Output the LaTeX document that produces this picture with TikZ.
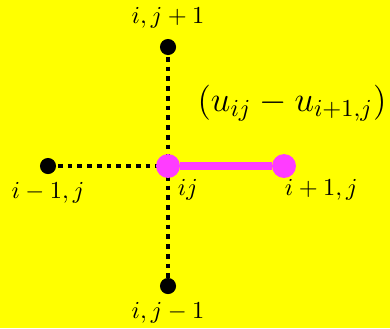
\documentclass[tikz,border=0pt]{standalone}
\usepackage{amsmath}
\usetikzlibrary{positioning, backgrounds}
\definecolor{sitepink}{RGB}{255,60,255}
\definecolor{bgyellow}{RGB}{255,255,0}

\begin{document}
\begin{tikzpicture}[x=0.41pt, y=-0.41pt,
    blackdot/.style={circle, fill=black, inner sep=0pt, minimum size=6.6pt},
    pinkdot/.style={circle, fill=sitepink, inner sep=0pt, minimum size=9.8pt},
    gridline/.style={line width=2pt, dash pattern=on 2pt off 2pt},
    bond/.style={line width=3.4pt, draw=sitepink},
    lbl/.style={inner sep=1pt, font=\normalsize}
]

\useasboundingbox (0,0) rectangle (390,328);

\node[pinkdot] (c) at (168,166) {};
\node[pinkdot] (r) at (284,166) {};
\node[blackdot] (t) at (168,47) {};
\node[blackdot] (b) at (168,286) {};
\node[blackdot] (l) at (48,166) {};

\begin{scope}[on background layer]
\fill[bgyellow] (0,0) rectangle (390,328);
\draw[gridline] (t.center) -- (c.center);
\draw[gridline] (c.center) -- (b.center);
\draw[gridline] (l.center) -- (c.center);
\end{scope}
\draw[bond] (c) -- (r);

\node[lbl, above=3pt of t] (tl) {$i,j+1$};
\node[lbl, below=2pt of b] (bl) {$i,j-1$};
\node[lbl, below=2pt of l] (ll) {$i-1,j$};
\node[lbl, anchor=north west] (cl) at (175,176) {$ij$};
\node[lbl, anchor=north west] (rl) at (282,176) {$i+1,j$};
\node[font=\Large] (diff) at (292,103) {$(u_{ij}-u_{i+1,j})$};

\end{tikzpicture}
\end{document}
